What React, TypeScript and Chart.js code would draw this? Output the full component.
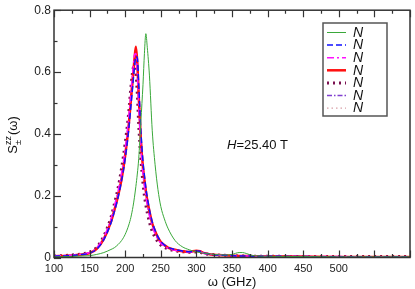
import React, { useEffect, useRef } from "react";
import { Chart, registerables } from "chart.js";

Chart.register(...registerables);

const omega = [100,120,140,150,160,170,180,185,190,195,200,205,208,211,213,215,217,219,222,225,227,229,231,234,238,242,246,250,255,260,270,280,290,300,305,310,320,330,340,350,360,365,370,380,400,450,500,550,600];

const green = [0.002,0.003,0.005,0.006,0.010,0.016,0.026,0.032,0.042,0.055,0.075,0.105,0.13,0.165,0.195,0.23,0.27,0.32,0.44,0.56,0.66,0.724,0.68,0.59,0.41,0.30,0.22,0.165,0.125,0.095,0.055,0.035,0.025,0.018,0.016,0.014,0.011,0.009,0.008,0.010,0.016,0.016,0.013,0.006,0.004,0.003,0.002,0.002,0.002];
const blue = [0.004,0.006,0.01,0.014,0.027,0.058,0.112,0.15,0.195,0.25,0.32,0.415,0.49,0.565,0.615,0.65,0.645,0.56,0.41,0.31,0.265,0.225,0.195,0.155,0.115,0.088,0.067,0.052,0.041,0.033,0.026,0.021,0.019,0.021,0.02,0.015,0.011,0.008,0.007,0.006,0.005,0.005,0.005,0.004,0.004,0.003,0.002,0.002,0.002];
const magenta = [0.005,0.007,0.011,0.016,0.031,0.066,0.125,0.168,0.215,0.275,0.35,0.455,0.535,0.61,0.655,0.66,0.6,0.49,0.36,0.27,0.23,0.2,0.17,0.135,0.1,0.077,0.059,0.046,0.037,0.03,0.023,0.02,0.018,0.02,0.019,0.014,0.01,0.008,0.007,0.006,0.005,0.005,0.005,0.004,0.004,0.003,0.003,0.002,0.002];
const red = [0.004,0.006,0.010,0.014,0.028,0.060,0.115,0.155,0.200,0.255,0.330,0.430,0.510,0.590,0.640,0.682,0.630,0.520,0.380,0.290,0.250,0.215,0.185,0.150,0.110,0.085,0.065,0.050,0.040,0.032,0.025,0.020,0.018,0.022,0.020,0.015,0.010,0.008,0.007,0.006,0.005,0.005,0.005,0.004,0.004,0.003,0.002,0.002,0.002];
const maroon = [0.005,0.007,0.012,0.017,0.033,0.07,0.13,0.175,0.225,0.29,0.37,0.47,0.55,0.61,0.62,0.60,0.53,0.43,0.32,0.24,0.2,0.17,0.145,0.115,0.085,0.065,0.05,0.04,0.033,0.028,0.022,0.019,0.017,0.018,0.017,0.013,0.01,0.008,0.007,0.006,0.005,0.005,0.005,0.004,0.004,0.003,0.003,0.003,0.003];
const purple = [0.005,0.007,0.011,0.015,0.029,0.062,0.118,0.157,0.203,0.26,0.335,0.43,0.505,0.575,0.62,0.645,0.635,0.55,0.40,0.30,0.26,0.22,0.19,0.15,0.112,0.086,0.066,0.051,0.04,0.032,0.025,0.021,0.019,0.021,0.02,0.015,0.011,0.008,0.007,0.006,0.005,0.005,0.005,0.004,0.004,0.003,0.003,0.003,0.003];
const pink = [0.004,0.006,0.01,0.014,0.028,0.06,0.116,0.156,0.201,0.257,0.333,0.435,0.515,0.59,0.635,0.668,0.625,0.515,0.378,0.288,0.248,0.213,0.184,0.149,0.11,0.085,0.065,0.05,0.04,0.032,0.025,0.02,0.018,0.022,0.02,0.015,0.01,0.008,0.007,0.006,0.005,0.005,0.005,0.004,0.004,0.003,0.002,0.002,0.002];

const xTickLabels = ["100", "150", "200", "250", "300", "350", "400", "450", "500"];
const legendLabel = "N";
const annotation = { italic: "H", rest: "=25.40 T" };
const xTitle = "ω (GHz)";

const FONT = '"Liberation Sans", Arial, Helvetica, sans-serif';

const seriesStyles = [
  { data: green, color: "#3aa83a", width: 1, dash: [] as number[] },
  { data: blue, color: "#1010ff", width: 1.5, dash: [6, 3] },
  { data: magenta, color: "#ff10ff", width: 1.5, dash: [7, 3, 2, 3] },
  { data: red, color: "#ff1010", width: 2.5, dash: [] as number[] },
  { data: maroon, color: "#7a1050", width: 3, dash: [2, 4] },
  { data: purple, color: "#8040d0", width: 1.3, dash: [5, 2, 1.5, 2] },
  { data: pink, color: "#d8a0a8", width: 1.2, dash: [1.5, 3] },
];

const decorPlugin = {
  id: "decor",
  afterDraw(chart: any) {
    const ctx = chart.ctx as CanvasRenderingContext2D;
    const { left, right, top, bottom } = chart.chartArea;
    const xs = chart.scales.x;
    const ys = chart.scales.y;
    ctx.save();
    ctx.strokeStyle = "#333";
    ctx.lineWidth = 1.5;
    ctx.setLineDash([]);
    ctx.strokeRect(left, top, right - left, bottom - top);
    ctx.lineWidth = 1.2;
    for (let v = 100; v <= 600; v += 25) {
      const px = Math.round(xs.getPixelForValue(v)) + 0.5;
      const len = v % 50 === 0 ? 7 : 3.5;
      ctx.beginPath();
      ctx.moveTo(px, bottom);
      ctx.lineTo(px, bottom - len);
      ctx.moveTo(px, top);
      ctx.lineTo(px, top + len);
      ctx.stroke();
    }
    for (let i = 0; i <= 8; i++) {
      const v = i / 10;
      const py = Math.round(ys.getPixelForValue(v)) + 0.5;
      const len = i % 2 === 0 ? 7 : 3.5;
      ctx.beginPath();
      ctx.moveTo(left, py);
      ctx.lineTo(left + len, py);
      ctx.stroke();
    }
    const lx = 323, ly = 23, lw = 64, lh = 93;
    ctx.fillStyle = "#fff";
    ctx.fillRect(lx, ly, lw, lh);
    ctx.strokeStyle = "#555";
    ctx.lineWidth = 1.5;
    ctx.strokeRect(lx, ly, lw, lh);
    chart.data.datasets.forEach((ds: any, i: number) => {
      const y = 32.5 + i * 12.6;
      ctx.strokeStyle = ds.borderColor;
      ctx.lineWidth = ds.borderWidth;
      ctx.setLineDash(ds.borderDash || []);
      ctx.beginPath();
      ctx.moveTo(327, y);
      ctx.lineTo(346, y);
      ctx.stroke();
      ctx.setLineDash([]);
      ctx.fillStyle = "#111";
      ctx.font = `italic 14px ${FONT}`;
      ctx.textBaseline = "middle";
      ctx.textAlign = "left";
      ctx.fillText(ds.label, 353, y + 0.5);
    });
    ctx.fillStyle = "#111";
    ctx.textBaseline = "alphabetic";
    ctx.font = `italic 13px ${FONT}`;
    ctx.fillText(annotation.italic, 227, 149);
    const hw = ctx.measureText(annotation.italic).width;
    ctx.font = `13px ${FONT}`;
    ctx.fillText(annotation.rest, 227 + hw, 149);
    ctx.textAlign = "center";
    ctx.font = `13px ${FONT}`;
    ctx.fillText(xTitle, (left + right) / 2, 286);
    ctx.translate(17, 135);
    ctx.rotate(-Math.PI / 2);
    ctx.textAlign = "left";
    ctx.font = `13px ${FONT}`;
    const wS = ctx.measureText("S").width;
    ctx.font = `9px ${FONT}`;
    const wSup = ctx.measureText("zz").width;
    ctx.font = `13px ${FONT}`;
    const wRest = ctx.measureText("(ω)").width;
    const total = wS + wSup + 1 + wRest;
    const x0 = -total / 2;
    ctx.fillText("S", x0, 0);
    ctx.font = `9px ${FONT}`;
    ctx.fillText("zz", x0 + wS, -6);
    ctx.fillText("±", x0 + wS, 4);
    ctx.font = `13px ${FONT}`;
    ctx.fillText("(ω)", x0 + wS + wSup + 1, 0);
    ctx.restore();
  },
};

export default function App() {
  const ref = useRef<HTMLCanvasElement>(null);
  useEffect(() => {
    if (!ref.current) return;
    const chart = new Chart(ref.current, {
      type: "line",
      data: {
        labels: omega,
        datasets: seriesStyles.map((s) => ({
          label: legendLabel,
          data: s.data.map((y, i) => ({ x: omega[i], y })),
          borderColor: s.color,
          backgroundColor: s.color,
          borderWidth: s.width,
          borderDash: s.dash,
          pointRadius: 0,
          fill: false,
          cubicInterpolationMode: "monotone" as const,
        })),
      },
      options: {
        animation: false,
        responsive: false,
        devicePixelRatio: 1,
        layout: { padding: { top: 6, right: 2, left: 0, bottom: 0 } },
        plugins: { legend: { display: false }, tooltip: { enabled: false } },
        scales: {
          x: {
            type: "linear",
            min: 100,
            max: 600,
            grid: { display: false, drawTicks: false },
            border: { display: false },
            ticks: {
              stepSize: 50,
              autoSkip: false,
              maxRotation: 0,
              padding: 5,
              color: "#222",
              font: { family: FONT, size: 11 },
              callback: (v: any) => (xTickLabels.includes(String(v)) ? String(v) : ""),
            },
            afterFit: (s: any) => { s.height = 31.5; },
          },
          y: {
            min: 0,
            max: 0.8,
            grid: { display: false, drawTicks: false },
            border: { display: false },
            ticks: {
              stepSize: 0.2,
              padding: 3,
              color: "#222",
              font: { family: FONT, size: 12 },
              callback: (v: any) => (Number(v) === 0 ? "0" : Number(v).toFixed(1)),
            },
            afterFit: (s: any) => { s.width = 54; },
          },
        },
      },
      plugins: [decorPlugin],
    });
    return () => chart.destroy();
  }, []);
  return (
    <div style={{ position: "absolute", left: 0, top: 0, width: 415, height: 289, background: "#fff" }}>
      <canvas ref={ref} width={415} height={289} />
    </div>
  );
}
